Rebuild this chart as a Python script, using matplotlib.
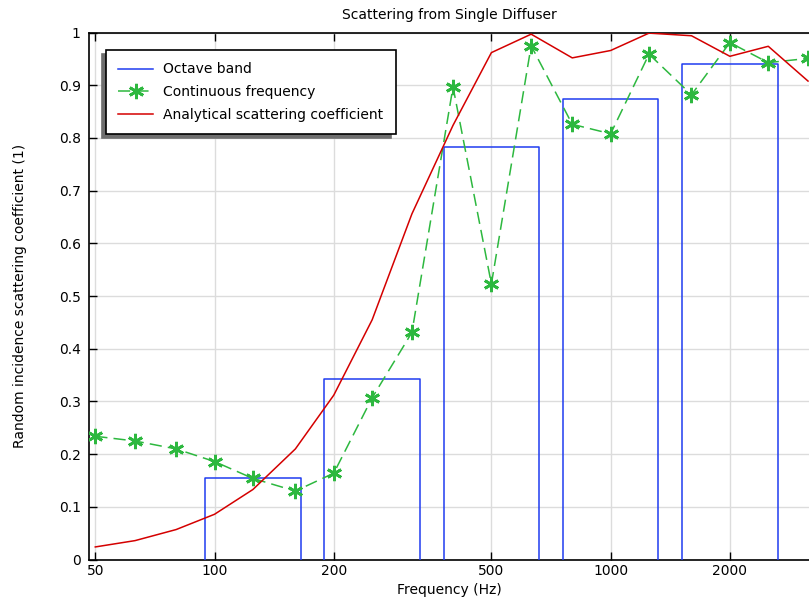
import matplotlib
matplotlib.use("Agg")
import matplotlib.pyplot as plt
import numpy as np

# Octave band results
band_centers = [125, 250, 500, 1000, 2000]
band_values = [0.154, 0.342, 0.782, 0.874, 0.940]

# One-third octave frequencies
freqs = [50, 63, 80, 100, 125, 160, 200, 250, 315, 400, 500, 630,
         800, 1000, 1250, 1600, 2000, 2500, 3150]

# Continuous-frequency simulation
continuous = [0.234, 0.225, 0.210, 0.186, 0.154, 0.130, 0.164, 0.307, 0.431,
              0.897, 0.523, 0.975, 0.826, 0.808, 0.959, 0.882, 0.981, 0.943, 0.951]

# Analytical scattering coefficient
analytical = [0.024, 0.036, 0.057, 0.086, 0.133, 0.210, 0.312, 0.455, 0.656,
              0.824, 0.962, 0.997, 0.952, 0.966, 0.999, 0.994, 0.955, 0.974, 0.908]

x_ticks = [50, 100, 200, 500, 1000, 2000]
y_ticks = [0, 0.1, 0.2, 0.3, 0.4, 0.5, 0.6, 0.7, 0.8, 0.9, 1]

blue = "#1f3cf0"
green = "#2db83f"
red = "#d40000"

fig = plt.figure(figsize=(8.09, 5.99), dpi=100)
ax = fig.add_axes([0.110, 0.0658, 0.890, 0.8798])
ax.set_xscale("log")

half = 2 ** 0.4
for i, (fc, h) in enumerate(zip(band_centers, band_values)):
    lo, hi = fc / half, fc * half
    ax.plot([lo, lo, hi, hi], [0, h, h, 0], color=blue, lw=1.1,
            label="Octave band" if i == 0 else None, zorder=3)

ax.plot(freqs, continuous, color=green, lw=1.1, dashes=(8, 4),
        marker=(6, 2, 0), markersize=11, markeredgewidth=2.0,
        markeredgecolor=green, label="Continuous frequency", zorder=4)

ax.plot(freqs, analytical, color=red, lw=1.1,
        label="Analytical scattering coefficient", zorder=5)

ax.set_xlim(48.2, 3168)
ax.set_ylim(0, 1)
ax.set_xticks(x_ticks)
ax.set_xticklabels([str(t) for t in x_ticks])
ax.xaxis.set_minor_locator(matplotlib.ticker.NullLocator())
ax.set_yticks(y_ticks)
ax.set_yticklabels(["0" if t == 0 else ("1" if t == 1 else f"{t:.1f}") for t in y_ticks])

ax.tick_params(axis="both", direction="in", labelsize=10, length=6,
               width=1, colors="black")
ax.tick_params(axis="x", top=True)
ax.tick_params(axis="y", pad=6)
ax.grid(True, color="#dcdcdc", lw=1)
ax.set_axisbelow(True)
ax.spines["right"].set_visible(False)
for s in ["left", "bottom", "top"]:
    ax.spines[s].set_linewidth(1.2)

ax.set_title("Scattering from Single Diffuser", fontsize=10, pad=10)
ax.set_xlabel("Frequency (Hz)", fontsize=10, labelpad=3)
ax.set_ylabel("Random incidence scattering coefficient (1)", fontsize=10, labelpad=23)

leg = ax.legend(loc="upper left", bbox_to_anchor=(0.0236, 0.967), borderaxespad=0,
                fontsize=10, frameon=True, fancybox=False, framealpha=1,
                edgecolor="black",
                shadow={"ox": -3, "oy": -3, "color": "#6e6e6e", "alpha": 1},
                borderpad=0.9, handlelength=2.5, handletextpad=0.7,
                labelspacing=0.62)
leg.get_frame().set_linewidth(1.2)

fig.savefig("out.png", dpi=100)
